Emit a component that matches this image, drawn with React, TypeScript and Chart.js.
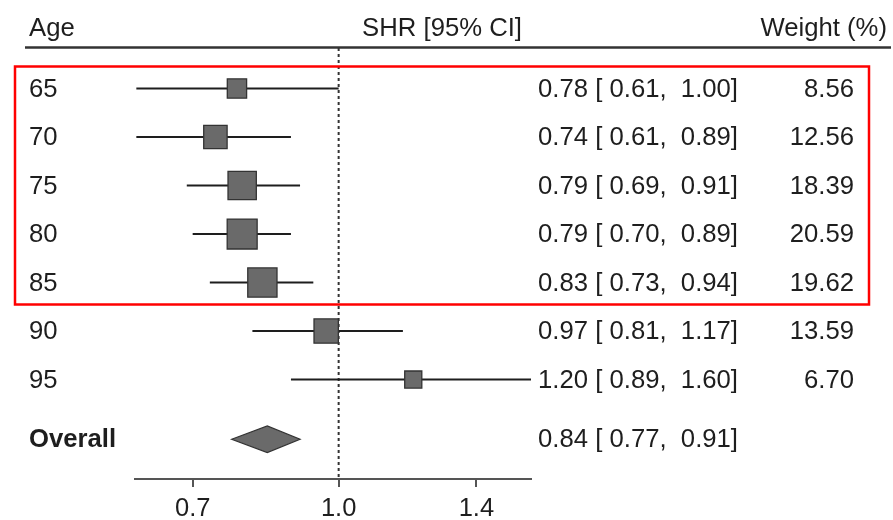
import React, { useEffect, useRef } from 'react';
import { Chart, registerables } from 'chart.js';

Chart.register(...registerables);

// ---- data ----
const ageLabels = ['65', '70', '75', '80', '85', '90', '95'];
const shrEstimates = [0.78, 0.74, 0.79, 0.79, 0.83, 0.97, 1.2];
const ciLower = [0.61, 0.61, 0.69, 0.7, 0.73, 0.81, 0.89];
const ciUpper = [1.0, 0.89, 0.91, 0.89, 0.94, 1.17, 1.6];
const weights = [8.56, 12.56, 18.39, 20.59, 19.62, 13.59, 6.7];
const overallLabel = 'Overall';
const overallEstimate = 0.84;
const overallLower = 0.77;
const overallUpper = 0.91;
const xTickValues = [0.7, 1.0, 1.4];
const headerLabels = ['Age', 'SHR [95% CI]', 'Weight (%)'];

// ---- layout constants ----
const OVERALL_ROW = 7.23;
const FONT = '"Liberation Sans", Arial, sans-serif';
const TEXT_COLOR = '#1e1e1e';
const TEXT_SIZE = 25.7;

const fmt = (v: number) => v.toFixed(2);
const ciText = (e: number, l: number, u: number) =>
  `${fmt(e)} [${fmt(l).padStart(5, ' ')}, ${fmt(u).padStart(5, ' ')}]`;

const tablePlugin = {
  id: 'forestTable',
  afterDraw(chart: any) {
    const ctx = chart.ctx as CanvasRenderingContext2D;
    const xs = chart.scales.x;
    const ys = chart.scales.y;
    ctx.save();
    // diamond for overall
    const yo = ys.getPixelForValue(OVERALL_ROW);
    const h = 13.3;
    ctx.beginPath();
    ctx.moveTo(xs.getPixelForValue(overallLower), yo);
    ctx.lineTo(xs.getPixelForValue(overallEstimate), yo - h);
    ctx.lineTo(xs.getPixelForValue(overallUpper), yo);
    ctx.lineTo(xs.getPixelForValue(overallEstimate), yo + h);
    ctx.closePath();
    ctx.fillStyle = '#6a6a6a';
    ctx.fill();
    ctx.strokeStyle = '#333333';
    ctx.lineWidth = 1.2;
    ctx.stroke();

    // header
    ctx.fillStyle = TEXT_COLOR;
    ctx.font = `${TEXT_SIZE}px ${FONT}`;
    ctx.textBaseline = 'middle';
    ctx.textAlign = 'left';
    ctx.fillText(headerLabels[0], 29, 28.5);
    ctx.textAlign = 'right';
    ctx.fillText(headerLabels[1], 522, 28.5);
    ctx.fillText(headerLabels[2], 887, 28.5);

    // header rule
    ctx.beginPath();
    ctx.moveTo(25, 47.5);
    ctx.lineTo(891, 47.5);
    ctx.strokeStyle = '#333333';
    ctx.lineWidth = 2.5;
    ctx.stroke();

    // rows
    ageLabels.forEach((lab, i) => {
      const y = ys.getPixelForValue(i) + 1;
      ctx.textAlign = 'left';
      ctx.fillText(lab, 29, y);
      ctx.textAlign = 'right';
      ctx.fillText(ciText(shrEstimates[i], ciLower[i], ciUpper[i]), 738, y);
      ctx.fillText(weights[i].toFixed(2), 854, y);
    });
    ctx.textAlign = 'right';
    ctx.fillText(ciText(overallEstimate, overallLower, overallUpper), 738, yo + 1);
    ctx.font = `bold ${TEXT_SIZE}px ${FONT}`;
    ctx.textAlign = 'left';
    ctx.fillText(overallLabel, 29, yo + 1);

    // red highlight box
    ctx.strokeStyle = '#ff0000';
    ctx.lineWidth = 2.5;
    ctx.strokeRect(15, 66.5, 854, 238);
    ctx.restore();
  },
};

export default function App() {
  const canvasRef = useRef<HTMLCanvasElement | null>(null);

  useEffect(() => {
    if (!canvasRef.current) return;
    const whiskerSets = ageLabels.map((_, i) => ({
      type: 'line' as const,
      data: [
        { x: ciLower[i], y: i },
        { x: ciUpper[i], y: i },
      ],
      borderColor: '#1e1e1e',
      borderWidth: 2,
      pointRadius: 0,
      fill: false,
      order: 2,
    }));
    const chart = new Chart(canvasRef.current, {
      type: 'scatter',
      data: {
        datasets: [
          {
            type: 'line' as const,
            data: [
              { x: 1.0, y: -0.835 },
              { x: 1.0, y: 8.05 },
            ],
            borderColor: '#333333',
            borderWidth: 2,
            borderDash: [3, 3],
            pointRadius: 0,
            fill: false,
            order: 3,
          },
          ...whiskerSets,
          {
            type: 'scatter' as const,
            data: shrEstimates.map((e, i) => ({ x: e, y: i })),
            pointStyle: 'rect',
            pointRadius: weights.map((w) => (6.6 * Math.sqrt(w)) / Math.SQRT2),
            backgroundColor: '#6a6a6a',
            borderColor: '#333333',
            borderWidth: 1.3,
            order: 1,
          },
        ] as any,
      },
      options: {
        animation: false,
        responsive: true,
        maintainAspectRatio: false,
        layout: { padding: { left: 135, right: 362, top: 48, bottom: 0 } },
        plugins: { legend: { display: false }, tooltip: { enabled: false } },
        scales: {
          x: {
            type: 'logarithmic',
            bounds: 'data',
            min: 0.608,
            max: 1.6,
            position: 'bottom',
            afterBuildTicks: (s: any) => {
              s.ticks = xTickValues.map((v) => ({ value: v }));
            },
            afterFit: (s: any) => {
              s.height = 41;
            },
            ticks: {
              callback: (v: any) => Number(v).toFixed(1),
              font: { family: FONT, size: 25.5 },
              color: TEXT_COLOR,
              padding: 7,
              autoSkip: false,
              maxRotation: 0,
            },
            grid: {
              display: true,
              drawOnChartArea: false,
              drawTicks: true,
              tickLength: 8,
              color: '#555555',
              lineWidth: 2,
            },
            border: { display: true, color: '#555555', width: 2 },
          },
          y: {
            type: 'linear',
            min: -0.835,
            max: 8.05,
            reverse: true,
            display: false,
          },
        },
      } as any,
      plugins: [tablePlugin],
    });
    return () => chart.destroy();
  }, []);

  return (
    <div style={{ position: 'absolute', left: 0, top: 0, width: 893, height: 520, background: '#fff' }}>
      <canvas ref={canvasRef} />
    </div>
  );
}
